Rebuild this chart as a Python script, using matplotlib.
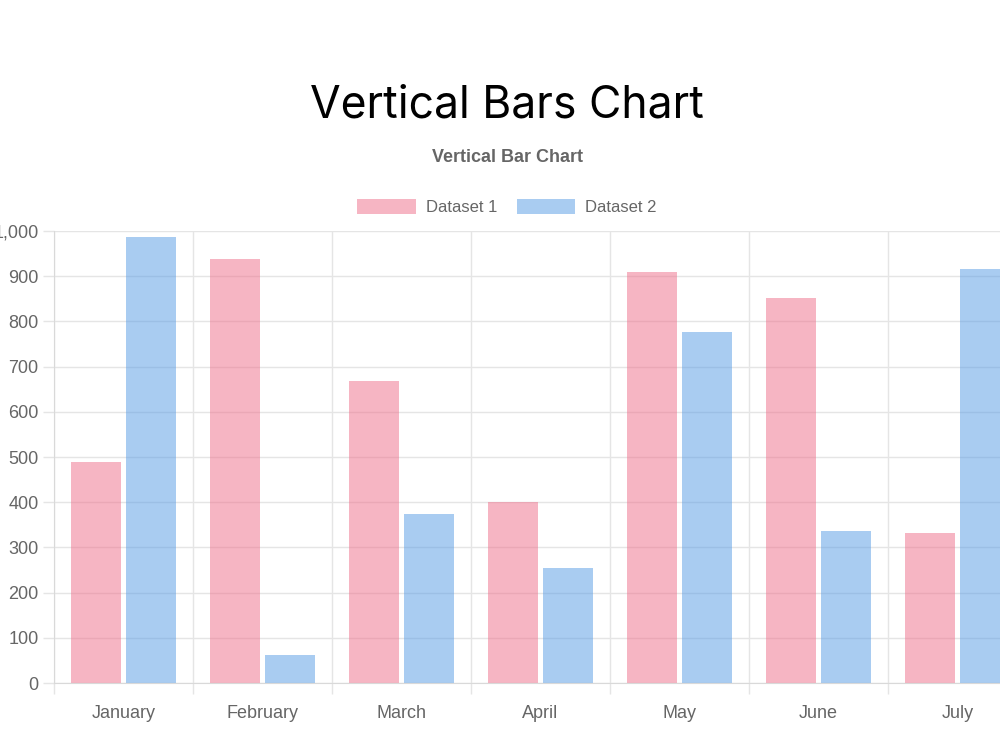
import matplotlib
matplotlib.use('Agg')
from matplotlib import pyplot as plt
from matplotlib.ticker import FuncFormatter, MultipleLocator
import numpy as np

months = ['January', 'February', 'March', 'April', 'May', 'June', 'July']
dataset1 = [489, 938, 668, 400, 909, 852, 332]
dataset2 = [987, 62, 374, 254, 777, 336, 916]

pink = (239 / 255, 109 / 255, 137 / 255, 0.5)
blue = (85 / 255, 155 / 255, 229 / 255, 0.5)
grid_c = '#e5e5e5'
text_c = '#666666'

plt.rcParams['font.family'] = ['Liberation Sans', 'DejaVu Sans']

fig = plt.figure(figsize=(10, 7.5), dpi=100)
# axes run past the right edge of the figure, like the cropped original
ax = fig.add_axes([0.054, (750 - 683) / 750, 0.973, (683 - 231) / 750])

x = np.arange(len(months))
w = 0.36
ax.bar(x - 0.2, dataset1, width=w, color=pink, label='Dataset 1', zorder=2)
ax.bar(x + 0.2, dataset2, width=w, color=blue, label='Dataset 2', zorder=2)

ax.set_xlim(-0.5, len(months) - 0.5)
ax.set_ylim(0, 1000)
ax.yaxis.set_major_locator(MultipleLocator(100))
ax.yaxis.set_major_formatter(FuncFormatter(lambda v, p: f'{int(v):,}'))

ax.set_xticks(x)
ax.set_xticklabels(months)
ax.set_xticks(np.arange(-0.5, len(months), 1), minor=True)

ax.tick_params(axis='x', which='major', length=0, pad=15.5, labelsize=13, labelcolor=text_c)
ax.tick_params(axis='x', which='minor', length=8, color=grid_c, width=1)
ax.tick_params(axis='y', length=8, color=grid_c, width=1, pad=3, labelsize=13, labelcolor=text_c)

ax.grid(axis='y', color=grid_c, linewidth=1, zorder=0)
ax.grid(axis='x', which='minor', color=grid_c, linewidth=1, zorder=0)
ax.set_axisbelow(True)
for s in ['top', 'right']:
    ax.spines[s].set_visible(False)
for s in ['left', 'bottom']:
    ax.spines[s].set_color('#d9d9d9')

fig.text(0.507, (750 - 105) / 750, 'Vertical Bars Chart', ha='center', va='center',
         fontsize=32, family=['Inter', 'DejaVu Sans'], color='black')
fig.text(0.507, (750 - 157) / 750, 'Vertical Bar Chart', ha='center', va='center',
         fontsize=13, fontweight='bold', color=text_c)
fig.legend(loc='center', bbox_to_anchor=(0.507, (750 - 207) / 750), ncol=2, frameon=False,
           fontsize=12, labelcolor=text_c, handlelength=3.5, handleheight=1.0,
           handletextpad=0.6, columnspacing=1.2)

fig.savefig('out.png', dpi=100)
